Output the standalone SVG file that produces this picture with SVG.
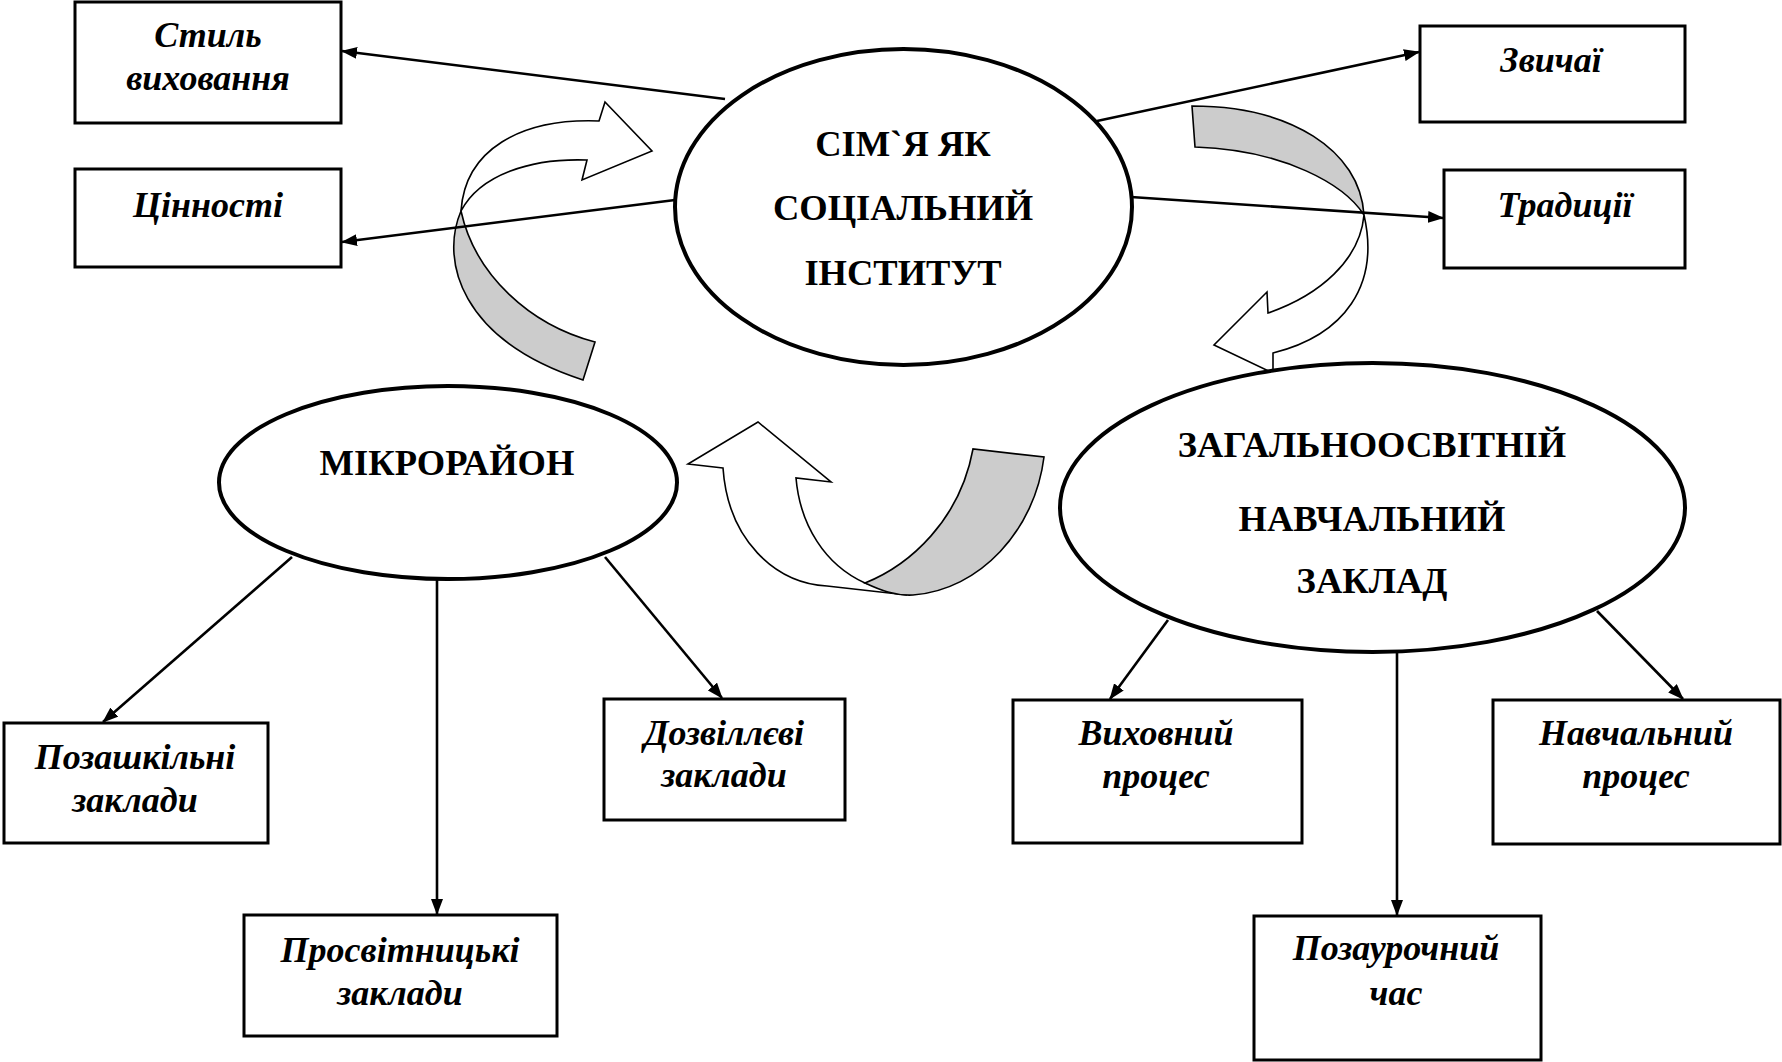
<svg xmlns="http://www.w3.org/2000/svg" width="1782" height="1062" viewBox="0 0 1782 1062">
<defs>
<style>
.box{fill:#fff;stroke:#000;stroke-width:3}
.ell{fill:#fff;stroke:#000;stroke-width:4}
.lbl{font-family:'Liberation Serif','DejaVu Serif',serif;font-weight:700;font-style:italic;font-size:36px;text-anchor:middle;fill:#000}
.hd{font-family:'Liberation Serif','DejaVu Serif',serif;font-weight:700;font-size:36.5px;text-anchor:middle;fill:#000}
.con{stroke:#000;stroke-width:2.6;fill:none;marker-end:url(#ah)}
.cw{fill:#fff;stroke:#000;stroke-width:1.6;stroke-linejoin:miter}
.cg{fill:#cccccc;stroke:#000;stroke-width:1.6}
</style>
<marker id="ah" markerUnits="userSpaceOnUse" markerWidth="16" markerHeight="12" refX="15" refY="6" orient="auto">
<path d="M0,0 L16,6 L0,12 Z" fill="#000"/>
</marker>
</defs>
<rect width="1782" height="1062" fill="#fff"/>

<g id="cycle-arrows">
<path class="cg" d="M461,211 C440,260 460,340 583,380 L595,342 C530,325 475,275 461,211 Z"/>
<path class="cw" d="M599,121 L605,102 L652,151 L582,180 L587,160 C530,158 480,175 461,211 C465,150 520,118 599,121 Z"/>
<path class="cg" d="M1192,106 C1290,106 1360,150 1364,215 C1345,185 1285,150 1195,147 Z"/>
<path class="cw" d="M1364,215 C1380,285 1345,335 1273,353 L1273,373 L1214,345 L1267,292 L1268,313 C1320,295 1360,260 1364,215 Z"/>
<path class="cw" d="M723,468 L688,464 L758,422 L831,482 L796,478 C800,525 825,565 865,583 L907,595 L827,586 C775,583 728,540 723,468 Z"/>
<path class="cg" d="M865,583 C910,565 960,520 973,449 L1044,457 C1035,530 980,590 913,595 C895,596 880,590 865,583 Z"/>
</g>

<g id="connectors">
<line class="con" x1="725" y1="99" x2="342" y2="51"/>
<line class="con" x1="675" y1="200" x2="342" y2="242"/>
<line class="con" x1="1097" y1="121" x2="1419" y2="52"/>
<line class="con" x1="1131" y1="197" x2="1443" y2="218"/>
<line class="con" x1="292" y1="557" x2="103" y2="722"/>
<line class="con" x1="437" y1="579" x2="437" y2="914"/>
<line class="con" x1="605" y1="557" x2="722" y2="698"/>
<line class="con" x1="1168" y1="620" x2="1110" y2="699"/>
<line class="con" x1="1397" y1="652" x2="1397" y2="915"/>
<line class="con" x1="1597" y1="611" x2="1683" y2="699"/>
</g>

<g id="family">
<ellipse class="ell" cx="903.5" cy="207" rx="228.5" ry="158"/>
<text class="hd" x="903" y="156">СІМ`Я ЯК</text>
<text class="hd" x="903" y="220">СОЦІАЛЬНИЙ</text>
<text class="hd" x="903" y="285">ІНСТИТУТ</text>
</g>

<g id="district">
<ellipse class="ell" cx="448" cy="482.5" rx="229" ry="96.5"/>
<text class="hd" x="447" y="475">МІКРОРАЙОН</text>
</g>

<g id="school">
<ellipse class="ell" cx="1372.5" cy="507.5" rx="312.5" ry="144.5"/>
<text class="hd" x="1372" y="457">ЗАГАЛЬНООСВІТНІЙ</text>
<text class="hd" x="1372" y="531">НАВЧАЛЬНИЙ</text>
<text class="hd" x="1372" y="593">ЗАКЛАД</text>
</g>

<g id="style">
<rect class="box" x="75" y="2" width="266" height="121"/>
<text class="lbl" x="208" y="47">Стиль</text>
<text class="lbl" x="208" y="90">виховання</text>
</g>

<g id="values">
<rect class="box" x="75" y="169" width="266" height="98"/>
<text class="lbl" x="208" y="217">Цінності</text>
</g>

<g id="customs">
<rect class="box" x="1420" y="26" width="265" height="96"/>
<text class="lbl" x="1551" y="72">Звичаї</text>
</g>

<g id="traditions">
<rect class="box" x="1444" y="170" width="241" height="98"/>
<text class="lbl" x="1565" y="217">Традиції</text>
</g>

<g id="extracurricular">
<rect class="box" x="4" y="723" width="264" height="120"/>
<text class="lbl" x="135" y="769">Позашкільні</text>
<text class="lbl" x="135" y="812">заклади</text>
</g>

<g id="educational">
<rect class="box" x="244" y="915" width="313" height="121"/>
<text class="lbl" x="400" y="962">Просвітницькі</text>
<text class="lbl" x="400" y="1005">заклади</text>
</g>

<g id="leisure">
<rect class="box" x="604" y="699" width="241" height="121"/>
<text class="lbl" x="724" y="745">Дозвіллєві</text>
<text class="lbl" x="724" y="787">заклади</text>
</g>

<g id="upbringing">
<rect class="box" x="1013" y="700" width="289" height="143"/>
<text class="lbl" x="1156" y="745">Виховний</text>
<text class="lbl" x="1156" y="788">процес</text>
</g>

<g id="after-class">
<rect class="box" x="1254" y="916" width="287" height="144"/>
<text class="lbl" x="1396" y="960">Позаурочний</text>
<text class="lbl" x="1396" y="1005">час</text>
</g>

<g id="learning">
<rect class="box" x="1493" y="700" width="287" height="144"/>
<text class="lbl" x="1636" y="745">Навчальний</text>
<text class="lbl" x="1636" y="788">процес</text>
</g>
</svg>
